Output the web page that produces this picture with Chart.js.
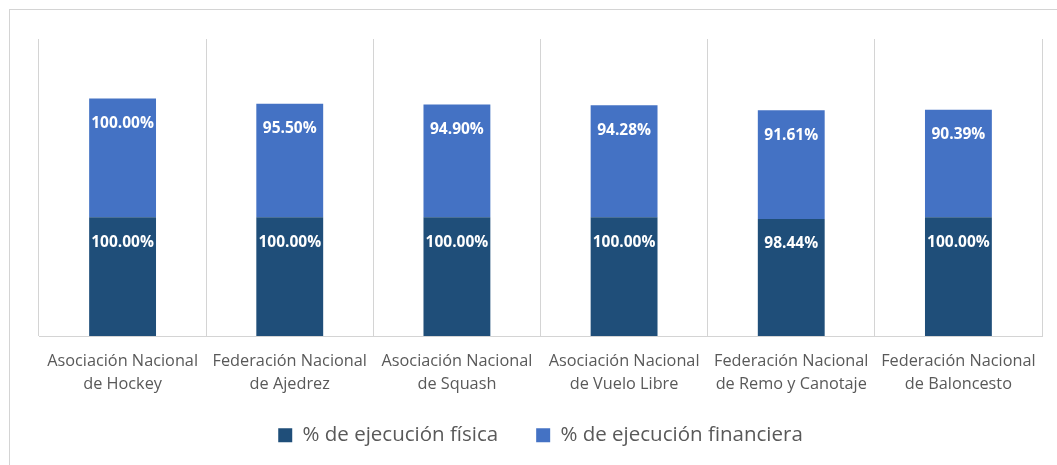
<!DOCTYPE html>
<html>
<head>
<meta charset="utf-8">
<script src="https://cdn.jsdelivr.net/npm/chart.js@4/dist/chart.umd.min.js"></script>
<style>
  html, body { margin: 0; padding: 0; background: #fff; overflow: hidden; }
  .frame {
    position: absolute; left: 9px; top: 9px; width: 1200px; height: 600px;
    border: 1px solid #d4d4d4; box-sizing: border-box;
  }
  .wrap { position: absolute; left: 0; top: 0; width: 1057px; height: 465px; }
</style>
</head>
<body>
<div class="frame"></div>
<div class="wrap"><canvas id="ejecucionChart" width="1057" height="465"></canvas></div>
<script>
// categories (two-line labels)
const categories = [
  ['Asociación Nacional', 'de Hockey'],
  ['Federación Nacional', 'de Ajedrez'],
  ['Asociación Nacional', 'de Squash'],
  ['Asociación Nacional', 'de Vuelo Libre'],
  ['Federación Nacional', 'de Remo y Canotaje'],
  ['Federación Nacional', 'de Baloncesto']
];

// series values (percent)
const fisica = [100.00, 100.00, 100.00, 100.00, 98.44, 100.00];
const financiera = [100.00, 95.50, 94.90, 94.28, 91.61, 90.39];

const seriesNames = ['% de ejecución física', '% de ejecución financiera'];

// white bold labels near the top of each segment
const segmentLabels = {
  id: 'segmentLabels',
  afterDatasetsDraw(chart) {
    const ctx = chart.ctx;
    ctx.save();
    ctx.font = 'bold 15.5px "Open Sans"';
    ctx.fillStyle = '#ffffff';
    ctx.textAlign = 'center';
    ctx.textBaseline = 'middle';
    chart.data.datasets.forEach((ds, i) => {
      const meta = chart.getDatasetMeta(i);
      meta.data.forEach((bar, j) => {
        ctx.fillText(ds.data[j].toFixed(2) + '%', bar.x, bar.y + 25);
      });
    });
    ctx.restore();
  }
};

// pull the legend up a little so it sits closer to the axis labels
const legendNudge = {
  id: 'legendNudge',
  afterLayout(chart) {
    if (chart.legend) {
      chart.legend.top -= 9;
      chart.legend.bottom -= 9;
    }
  }
};

const chart = new Chart('ejecucionChart', {
  type: 'bar',
  data: {
    labels: categories,
    datasets: [
      {
        label: seriesNames[0],
        data: fisica,
        backgroundColor: '#1F4E79',
        barPercentage: 0.4,
        categoryPercentage: 1.0
      },
      {
        label: seriesNames[1],
        data: financiera,
        backgroundColor: '#4472C4',
        barPercentage: 0.4,
        categoryPercentage: 1.0
      }
    ]
  },
  options: {
    responsive: false,
    animation: false,
    layout: { padding: { left: 39, right: 15, top: 39, bottom: 0.5 } },
    plugins: {
      tooltip: { enabled: false },
      legend: {
        position: 'bottom',
        labels: {
          boxWidth: 14,
          boxHeight: 14,
          padding: 38,
          color: '#595959',
          font: { family: 'Open Sans', size: 20.5 }
        }
      }
    },
    scales: {
      x: {
        stacked: true,
        grid: { offset: true, color: '#d4d4d4', lineWidth: 1, drawTicks: false },
        border: { color: '#d4d4d4', width: 1 },
        ticks: {
          color: '#595959',
          padding: 14,
          maxRotation: 0,
          autoSkip: false,
          font: { family: 'Open Sans', size: 16.3, lineHeight: 1.41 }
        },
        // fixed height so the plot bottom lines up with the reference
        afterFit: (scale) => { scale.height = 60; }
      },
      y: {
        stacked: true,
        display: false,
        min: 0,
        max: 250
      }
    }
  },
  plugins: [segmentLabels, legendNudge]
});
</script>
</body>
</html>
